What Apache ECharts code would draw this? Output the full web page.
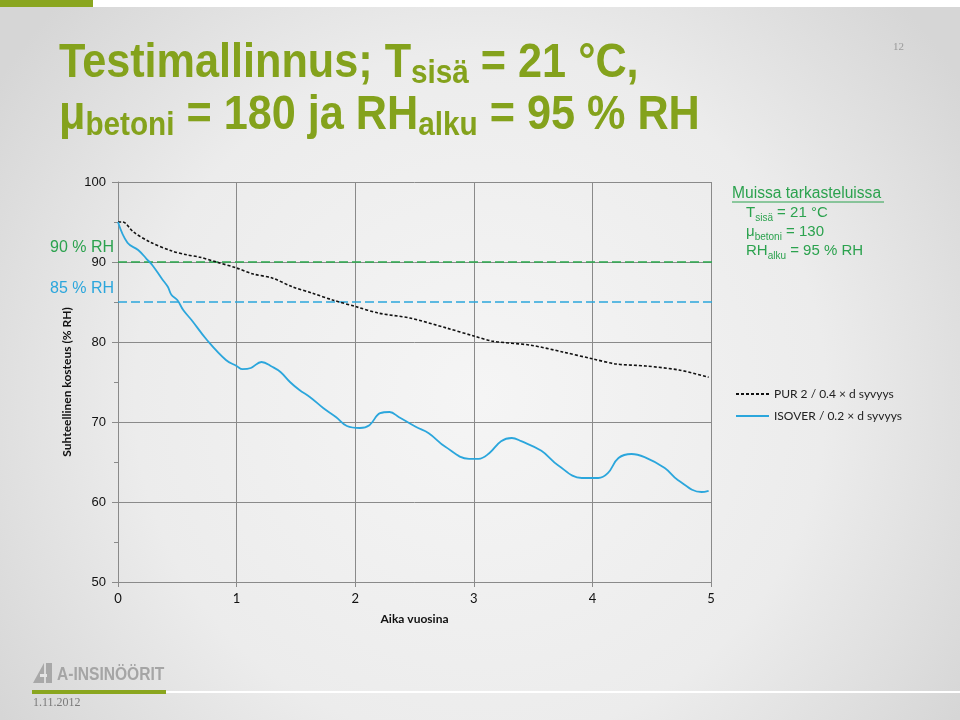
<!DOCTYPE html>
<html>
<head>
<meta charset="utf-8">
<script src="https://cdn.jsdelivr.net/npm/echarts@6/dist/echarts.min.js"></script>
<style>
html,body{margin:0;padding:0;}
#chart{width:960px;height:720px;}
</style>
</head>
<body>
<div id="chart"></div>
<script>
// ---- data ----
var isoverX = [0, 0.08, 0.17, 0.24, 0.29, 0.37, 0.42, 0.45, 0.5, 0.55, 0.62, 0.75, 0.91, 1.0, 1.05, 1.12, 1.21, 1.3, 1.37, 1.45, 1.53, 1.62, 1.73, 1.84, 1.93, 2.04, 2.12, 2.21, 2.29, 2.37, 2.51, 2.62, 2.76, 2.96, 3.04, 3.13, 3.23, 3.32, 3.4, 3.57, 3.71, 3.91, 4.05, 4.13, 4.22, 4.33, 4.44, 4.61, 4.72, 4.92, 4.98];
var isoverY = [95, 92.4, 91.5, 90.4, 89.6, 87.9, 86.9, 85.9, 85.25, 84, 82.75, 80.25, 77.75, 77, 76.6, 76.75, 77.5, 76.9, 76.25, 75, 74, 73.1, 71.75, 70.6, 69.5, 69.25, 69.6, 71.1, 71.25, 70.6, 69.4, 68.6, 66.9, 65.4, 65.4, 66.1, 67.6, 68, 67.6, 66.4, 64.6, 63, 63, 63.6, 65.5, 66, 65.6, 64.25, 62.75, 61.25, 61.4];
var purX = [0, 0.04, 0.13, 0.27, 0.45, 0.58, 0.69, 0.83, 1.0, 1.14, 1.3, 1.47, 1.64, 1.81, 2.01, 2.2, 2.46, 2.77, 3.0, 3.16, 3.48, 3.75, 4.0, 4.2, 4.45, 4.73, 4.98];
var purY = [95, 95, 93.75, 92.5, 91.4, 90.9, 90.6, 90, 89.25, 88.5, 88, 86.9, 86.1, 85.25, 84.4, 83.6, 83, 81.75, 80.75, 80.1, 79.6, 78.75, 77.9, 77.25, 77, 76.5, 75.6];
var refX = [0, 5.09];
var ref90 = [90, 90];
var ref85 = [85, 85];
var seriesNames = ['PUR 2 / 0.4 × d syvyys', 'ISOVER / 0.2 × d syvyys'];
var refNames = ['90 % RH', '85 % RH'];
var yTitle = 'Suhteellinen kosteus (% RH)';
var xTitle = 'Aika vuosina';

function pairs(xs, ys){ return xs.map(function(x,i){ return [x, ys[i]]; }); }

var GREEN_T = '#84a21c';
var GREEN = '#2ba24e';
var BLUE = '#2ba6dc';
var arial = "'Liberation Sans',Arial,sans-serif";
var cal = "Lato,'Open Sans',sans-serif";

var bigRich = {
  b: {fontSize: 48, fontWeight: 'bold', fontFamily: arial, fill: GREEN_T, lineHeight: 50, verticalAlign: 'top'},
  s: {fontSize: 33, fontWeight: 'bold', fontFamily: arial, fill: GREEN_T, lineHeight: 16, verticalAlign: 'bottom'}
};
var smallRich = {
  n: {fontSize: 15, fontFamily: arial, fill: GREEN, lineHeight: 18, verticalAlign: 'top'},
  s: {fontSize: 10, fontFamily: arial, fill: GREEN, lineHeight: 8, verticalAlign: 'bottom'}
};

var chart = echarts.init(document.getElementById('chart'), null, {renderer:'canvas'});
var option = {
  animation: false,
  backgroundColor: {
    type: 'radial', x: 0.5, y: 0.55, r: 0.8,
    colorStops: [{offset:0, color:'#f5f5f5'},{offset:0.6, color:'#ececec'},{offset:1, color:'#d6d6d6'}]
  },
  grid: {left: 118, right: 249, top: 182, bottom: 138, containLabel: false},
  xAxis: {
    type: 'value', min: 0, max: 5, interval: 1,
    name: xTitle, nameLocation: 'middle', nameGap: 31,
    nameTextStyle: {fontFamily: cal, fontWeight: 'bold', fontSize: 12, color: '#111'},
    axisLine: {show: true, lineStyle: {color: '#8a8a8a', width: 1}},
    axisTick: {show: true, length: 5, lineStyle: {color: '#8a8a8a'}},
    axisLabel: {fontFamily: cal, fontSize: 13, color: '#111', margin: 10},
    splitLine: {show: true, lineStyle: {color: '#8a8a8a', width: 1}}
  },
  yAxis: {
    type: 'value', min: 50, max: 100, interval: 10,
    name: yTitle, nameLocation: 'middle', nameGap: 44, nameRotate: 90,
    nameTextStyle: {fontFamily: cal, fontWeight: 'bold', fontSize: 12, color: '#111'},
    axisLine: {show: true, lineStyle: {color: '#8a8a8a', width: 1}},
    axisTick: {show: true, length: 6, lineStyle: {color: '#8a8a8a'}},
    minorTick: {show: true, splitNumber: 2, length: 4, lineStyle: {color: '#8a8a8a'}},
    axisLabel: {fontFamily: arial, fontSize: 13, color: '#111', margin: 12},
    splitLine: {show: true, lineStyle: {color: '#8a8a8a', width: 1}}
  },
  legend: {
    data: seriesNames, orient: 'vertical', left: 730, top: 383,
    itemWidth: 33, itemHeight: 10, itemGap: 10,
    itemStyle: {opacity: 0},
    textStyle: {fontFamily: cal, fontSize: 12, color: '#222'}
  },
  series: [
    {name: refNames[0], type: 'line', data: pairs(refX, ref90), symbol: 'none', clip: false, silent: true,
     lineStyle: {color: '#2aa84c', width: 1.5, type: [9, 4]}, z: 1},
    {name: refNames[1], type: 'line', data: pairs(refX, ref85), symbol: 'none', clip: false, silent: true,
     lineStyle: {color: BLUE, width: 1.5, type: [9, 4]}, z: 1},
    {name: seriesNames[0], type: 'line', data: pairs(purX, purY), symbol: 'none', smooth: 0.3,
     itemStyle: {color: '#111'}, lineStyle: {color: '#111', width: 1.6, type: [3, 2]}, z: 3},
    {name: seriesNames[1], type: 'line', data: pairs(isoverX, isoverY), symbol: 'none', smooth: 0.4,
     itemStyle: {color: BLUE}, lineStyle: {color: BLUE, width: 1.8}, z: 4}
  ],
  graphic: [
    // top band
    {type: 'rect', left: 0, top: 0, shape: {width: 960, height: 7}, style: {fill: '#ffffff'}, silent: true},
    {type: 'rect', left: 0, top: 0, shape: {width: 93, height: 7}, style: {fill: '#8aa61f'}, silent: true},
    // title
    {type: 'text', x: 59, y: 40, scaleX: 0.9, originX: 0, originY: 0, style: {
      text: '{b|Testimallinnus; T}{s|sisä}{b| = 21 °C,}', rich: bigRich}},
    {type: 'text', x: 59, y: 92, scaleX: 0.9, originX: 0, originY: 0, style: {
      text: '{b|μ}{s|betoni}{b| = 180 ja RH}{s|alku}{b| = 95 % RH}', rich: bigRich}},
    // page number
    {type: 'text', left: 893, top: 42, style: {text: '12', font: "11px 'Liberation Serif',serif", fill: '#9a9a9a'}},
    // reference labels
    {type: 'text', right: 960 - 114, top: 240, style: {text: refNames[0], font: "16px 'Liberation Sans',sans-serif", fill: GREEN, align: 'right'}},
    {type: 'text', right: 960 - 114, top: 281, style: {text: refNames[1], font: "16px 'Liberation Sans',sans-serif", fill: BLUE, align: 'right'}},
    // annotation box
    {type: 'text', left: 732, top: 186, style: {text: 'Muissa tarkasteluissa', font: "15.6px 'Liberation Sans',sans-serif", fill: GREEN}},
    {type: 'line', shape: {x1: 732, y1: 202, x2: 884, y2: 202}, style: {stroke: GREEN, lineWidth: 1}},
    {type: 'text', left: 746, top: 205, style: {text: '{n|T}{s|sisä}{n| = 21 °C}', rich: smallRich}},
    {type: 'text', left: 746, top: 224, style: {text: '{n|μ}{s|betoni}{n| = 130}', rich: smallRich}},
    {type: 'text', left: 746, top: 243, style: {text: '{n|RH}{s|alku}{n| = 95 % RH}', rich: smallRich}},
    // footer logo
    {type: 'polygon', shape: {points: [[33, 683], [44, 663], [44, 683]]}, style: {fill: '#a8a8a8'}},
    {type: 'rect', shape: {x: 46, y: 663, width: 6, height: 20}, style: {fill: '#a8a8a8'}},
    {type: 'rect', shape: {x: 40, y: 674, width: 7, height: 3}, style: {fill: '#e4e4e4'}},
    {type: 'text', x: 57, y: 665, scaleX: 0.82, originX: 0, originY: 0, style: {text: 'A-INSINÖÖRIT', font: "bold 19px 'Liberation Sans',sans-serif", fill: '#a5a5a5'}},
    {type: 'rect', shape: {x: 166, y: 691, width: 794, height: 2}, style: {fill: '#ffffff'}},
    {type: 'rect', shape: {x: 32, y: 690, width: 134, height: 4}, style: {fill: '#8aa61f'}},
    {type: 'text', left: 33, top: 697, style: {text: '1.11.2012', font: "12px 'Liberation Serif',serif", fill: '#7a7a7a'}}
  ]
};
chart.setOption(option);
</script>
</body>
</html>
